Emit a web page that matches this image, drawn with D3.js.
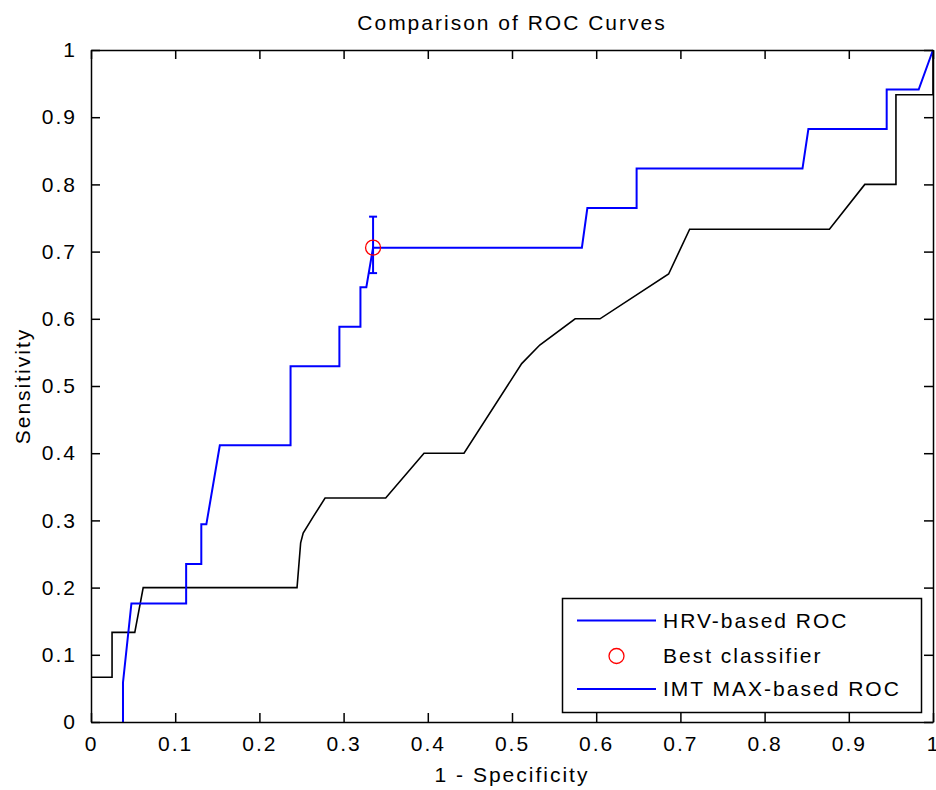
<!DOCTYPE html>
<html>
<head>
<meta charset="utf-8">
<script src="https://cdn.jsdelivr.net/npm/d3@7"></script>
<style>
  html, body { margin: 0; padding: 0; background: #fff; }
  svg text { font-family: "Liberation Sans", Arial, sans-serif; fill: #000; }
</style>
</head>
<body>
<svg id="chart" width="936" height="790"></svg>
<script>
// ---- data ----
const hrvFpr = [0.038, 0.038, 0.048, 0.113, 0.113, 0.131, 0.131, 0.137, 0.153, 0.237, 0.237, 0.295, 0.295, 0.320, 0.320, 0.327, 0.335, 0.583, 0.5895, 0.648, 0.648, 0.845, 0.852, 0.945, 0.945, 0.983, 1.0];
const hrvTpr = [0, 0.0588, 0.1765, 0.1765, 0.2353, 0.2353, 0.2941, 0.2941, 0.4118, 0.4118, 0.5294, 0.5294, 0.5882, 0.5882, 0.6471, 0.6471, 0.7059, 0.7059, 0.7647, 0.7647, 0.8235, 0.8235, 0.8824, 0.8824, 0.9412, 0.9412, 1.0];
const imtFpr = [0, 0.025, 0.025, 0.052, 0.062, 0.2447, 0.249, 0.252, 0.264, 0.278, 0.350, 0.3955, 0.443, 0.5115, 0.533, 0.575, 0.6045, 0.686, 0.711, 0.877, 0.919, 0.956, 0.956, 1.0, 1.0];
const imtTpr = [0.0667, 0.0667, 0.1333, 0.1333, 0.2, 0.2, 0.2667, 0.281, 0.3055, 0.3333, 0.3333, 0.4, 0.4, 0.5333, 0.561, 0.6, 0.6, 0.6667, 0.7333, 0.7333, 0.8, 0.8, 0.9333, 0.9333, 1.0];
const bestPoint = [0.335, 0.7059];
const bestErr = [0.668, 0.752];
const xTicks = [0, 0.1, 0.2, 0.3, 0.4, 0.5, 0.6, 0.7, 0.8, 0.9, 1];
const yTicks = [0, 0.1, 0.2, 0.3, 0.4, 0.5, 0.6, 0.7, 0.8, 0.9, 1];
const legendLabels = ["HRV-based ROC", "Best classifier", "IMT MAX-based ROC"];
const titleText = "Comparison of ROC Curves";
const xLabel = "1 - Specificity";
const yLabel = "Sensitivity";

// ---- layout ----
const svg = d3.select("#chart");
const L = 91, R = 933, T = 50, B = 722;
const x = d3.scaleLinear().domain([0, 1]).range([L, R]);
const y = d3.scaleLinear().domain([0, 1]).range([B, T]);
const FS = 21, LS = "2px";

// plot background
svg.append("rect").attr("x", L).attr("y", T).attr("width", R - L).attr("height", B - T).attr("fill", "#fff");

// curves
const line = d3.line().x(d => x(d[0])).y(d => y(d[1]));
const imtData = imtFpr.map((v, i) => [v, imtTpr[i]]);
const hrvData = hrvFpr.map((v, i) => [v, hrvTpr[i]]);
svg.append("path").attr("d", line(imtData)).attr("fill", "none").attr("stroke", "#000").attr("stroke-width", 1.6);
svg.append("path").attr("d", line(hrvData)).attr("fill", "none").attr("stroke", "#0000ff").attr("stroke-width", 2);

// error bar
const ex = x(bestPoint[0]);
const eg = svg.append("g").attr("stroke", "#0000ff").attr("stroke-width", 2);
eg.append("line").attr("x1", ex).attr("x2", ex).attr("y1", y(bestErr[0])).attr("y2", y(bestErr[1]));
eg.append("line").attr("x1", ex - 4).attr("x2", ex + 4).attr("y1", y(bestErr[0])).attr("y2", y(bestErr[0]));
eg.append("line").attr("x1", ex - 4).attr("x2", ex + 4).attr("y1", y(bestErr[1])).attr("y2", y(bestErr[1]));

// best classifier marker
svg.append("circle").attr("cx", x(bestPoint[0])).attr("cy", y(bestPoint[1])).attr("r", 7.5)
  .attr("fill", "none").attr("stroke", "#ff0000").attr("stroke-width", 1.3);

// axes (MATLAB box with inward ticks)
const tickLen = 9;
const xAxisB = d3.axisBottom(x).tickValues(xTicks).tickSizeInner(-tickLen).tickSizeOuter(0).tickPadding(14).tickFormat(d3.format("~g"));
const xAxisT = d3.axisTop(x).tickValues(xTicks).tickSizeInner(-tickLen).tickSizeOuter(0).tickFormat("");
const yAxisL = d3.axisLeft(y).tickValues(yTicks).tickSizeInner(-tickLen).tickSizeOuter(0).tickPadding(14).tickFormat(d3.format("~g"));
const yAxisR = d3.axisRight(y).tickValues(yTicks).tickSizeInner(-tickLen).tickSizeOuter(0).tickFormat("");

function styleAxis(g) {
  g.selectAll("path, line").attr("stroke", "#000").attr("stroke-width", 1.5);
  g.selectAll("text").attr("font-size", FS).style("letter-spacing", LS)
    .attr("font-family", "Liberation Sans, Arial, sans-serif").attr("fill", "#000");
}
svg.append("g").attr("transform", `translate(0,${B})`).call(xAxisB).call(styleAxis);
svg.append("g").attr("transform", `translate(0,${T})`).call(xAxisT).call(styleAxis);
svg.append("g").attr("transform", `translate(${L},0)`).call(yAxisL).call(styleAxis);
svg.append("g").attr("transform", `translate(${R},0)`).call(yAxisR).call(styleAxis);

// titles
svg.append("text").attr("x", (L + R) / 2).attr("y", 30).attr("text-anchor", "middle")
  .attr("font-size", FS).style("letter-spacing", LS).text(titleText);
svg.append("text").attr("x", (L + R) / 2).attr("y", 782).attr("text-anchor", "middle")
  .attr("font-size", FS).style("letter-spacing", LS).text(xLabel);
svg.append("text").attr("transform", `translate(30,${(T + B) / 2}) rotate(-90)`).attr("text-anchor", "middle")
  .attr("font-size", FS).style("letter-spacing", LS).text(yLabel);

// legend
const lg = svg.append("g");
lg.append("rect").attr("x", 562.5).attr("y", 598.5).attr("width", 359).attr("height", 114)
  .attr("fill", "#fff").attr("stroke", "#000").attr("stroke-width", 1.5);
const rowsY = [620.5, 656, 689];
lg.append("line").attr("x1", 577).attr("x2", 656).attr("y1", rowsY[0]).attr("y2", rowsY[0]).attr("stroke", "#0000ff").attr("stroke-width", 2);
lg.append("circle").attr("cx", 616.5).attr("cy", rowsY[1]).attr("r", 7.5).attr("fill", "none").attr("stroke", "#ff0000").attr("stroke-width", 1.3);
lg.append("line").attr("x1", 577).attr("x2", 656).attr("y1", rowsY[2]).attr("y2", rowsY[2]).attr("stroke", "#0000ff").attr("stroke-width", 2);
legendLabels.forEach((t, i) => {
  lg.append("text").attr("x", 663).attr("y", rowsY[i]).attr("dy", "0.35em")
    .attr("font-size", FS).style("letter-spacing", LS).text(t);
});
</script>
</body>
</html>
